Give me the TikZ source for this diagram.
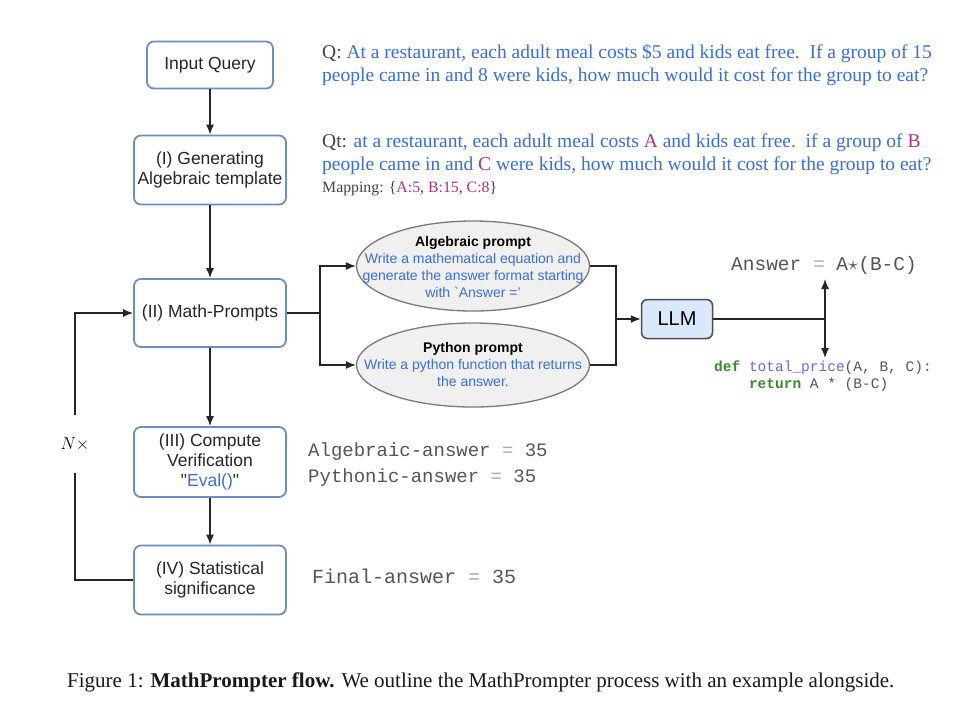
\documentclass[tikz,border=0pt]{standalone}
\usepackage{fontspec}
\setmainfont{Liberation Serif}
\setsansfont{Liberation Sans}
\setmonofont{Liberation Mono}
\usetikzlibrary{arrows.meta,shapes.geometric}
\definecolor{boxblue}{HTML}{6C8EBF}
\definecolor{qblue}{HTML}{3A6FD8}
\definecolor{mag}{HTML}{B0307F}
\definecolor{llmfill}{HTML}{DAE8FC}
\definecolor{ellfill}{HTML}{F0F0F0}
\definecolor{ellline}{HTML}{7A7A7A}
\definecolor{codegreen}{HTML}{3A8A2E}
\definecolor{codeblue}{HTML}{6A6AD8}
\definecolor{txtgrey}{HTML}{444444}
\definecolor{monogrey}{HTML}{555555}
\definecolor{eqgrey}{HTML}{AAAAAA}
\tikzset{
  stepbox/.style={draw=boxblue, line width=1.8pt, rounded corners=7pt, fill=white,
    font=\sffamily\fontsize{17.5}{20}\selectfont, align=center, inner sep=0pt, text=black!85},
  promptell/.style={ellipse, draw=ellline, fill=ellfill, line width=1.3pt, inner sep=0pt,
    minimum width=233pt},
  prompttext/.style={inner sep=0pt, align=center, font=\sffamily\fontsize{14}{17}\selectfont},
  arr/.style={-{Latex[length=10pt,width=8pt]}, line width=1.3pt, draw=black!85},
  ln/.style={line width=1.3pt, draw=black!85},
  qtext/.style={anchor=west, inner sep=0pt, align=left, font=\fontsize{19.5}{23}\selectfont},
  monotext/.style={anchor=west, inner sep=0pt, align=left, text=monogrey, font=\ttfamily\fontsize{19}{26}\selectfont},
}
\begin{document}
\begin{tikzpicture}[x=1pt,y=-1pt]
\useasboundingbox[fill=white] (0,0) rectangle (971,721);

% left column
\node[stepbox, minimum width=126pt, minimum height=47pt] (iq) at (210,65) {Input Query};
\node[stepbox, minimum width=152pt, minimum height=69pt] (gen) at (210,170) {(I) Generating\\Algebraic template};
\node[stepbox, minimum width=152pt, minimum height=68pt] (mp) at (210,313) {(II) Math-Prompts};
\node[stepbox, minimum width=152pt, minimum height=70pt] (cv) at (210,462) {(III) Compute\\Verification\\\textquotedbl{\color{qblue}Eval()}\textquotedbl};
\node[stepbox, minimum width=152pt, minimum height=69pt] (st) at (210,580) {(IV) Statistical\\significance};

\draw[arr] (iq) -- (gen);
\draw[arr] (gen) -- (mp);
\draw[arr] (mp) -- (cv);
\draw[arr] (cv) -- (st);

% loop
\node[inner sep=0pt, minimum height=58pt, font=\fontsize{19}{20}\selectfont] (nx) at (75,444) {$N\times$};
\draw[ln] (st.west) -| (nx.south);
\draw[arr] (nx.north) |- (mp.west);

% prompts
\node[promptell, minimum height=90pt] (alg) at (473,266) {};
\node[prompttext] (algtxt) at (473,267)
  {\textbf{Algebraic prompt}\\{\color{qblue}Write a mathematical equation and}\\{\color{qblue}generate the answer format starting}\\{\color{qblue}with \textasciigrave Answer ='}};
\node[promptell, minimum height=84pt] (py) at (473,365) {};
\node[prompttext] (pytxt) at (473,364)
  {\textbf{Python prompt}\\{\color{qblue}Write a python function that returns}\\{\color{qblue}the answer.}};

\coordinate (sp) at (320,313);
\draw[ln] (mp.east) -- (sp);
\draw[arr] (sp) |- (alg.west);
\draw[arr] (sp) |- (py.west);

\node[draw=black!70, fill=llmfill, line width=1.5pt, rounded corners=6pt,
  minimum width=71pt, minimum height=39pt, inner sep=0pt,
  font=\sffamily\fontsize{20}{22}\selectfont] (llm) at (677,319) {LLM};

\coordinate (jn) at (616,319);
\draw[ln] (alg.east) -| (jn);
\draw[ln] (py.east) -| (jn);
\draw[arr] (jn) -- (llm.west);

\coordinate (br) at (825,319);
\coordinate (up) at (825,279);
\coordinate (dn) at (825,358);
\draw[ln] (llm.east) -- (br);
\draw[arr] (br) -- (up);
\draw[arr] (br) -- (dn);

\node[inner sep=0pt, text=monogrey, font=\ttfamily\fontsize{19.5}{22}\selectfont] (ans) at (824,265)
  {Answer {\color{eqgrey}=} A$\star$(B-C)};
\node[anchor=north west, inner sep=0pt, align=left, text=monogrey, font=\ttfamily\fontsize{14.5}{17}\selectfont] (code) at (714,361)
  {{\bfseries\color{codegreen}def} {\color{codeblue}total\_price}(A, B, C):\\
   \phantom{def }{\bfseries\color{codegreen}return} A * (B-C)};

% texts
\node[qtext] (q) at (322,65)
  {{\color{txtgrey}Q:} {\color{qblue}At a restaurant, each adult meal costs \$5 and kids eat free.\ \ If a group of 15}\\
   {\color{qblue}people came in and 8 were kids, how much would it cost for the group to eat?}};
\node[qtext] (qt) at (322,154)
  {{\color{txtgrey}Qt:} {\color{qblue}at a restaurant, each adult meal costs {\color{mag}A} and kids eat free.\ \ if a group of {\color{mag}B}}\\
   {\color{qblue}people came in and {\color{mag}C} were kids, how much would it cost for the group to eat?}};
\node[anchor=west, inner sep=0pt, text=txtgrey, font=\fontsize{15.8}{18}\selectfont] (map) at (322,189)
  {Mapping: \{{\color{mag}A:5}, {\color{mag}B:15}, {\color{mag}C:8}\}};

\node[monotext] (aa) at (308,465)
  {Algebraic-answer {\color{eqgrey}=} 35\\Pythonic-answer {\color{eqgrey}=} 35};
\node[monotext, font=\ttfamily\fontsize{20}{26}\selectfont] (fa) at (312,576) {Final-answer {\color{eqgrey}=} 35};

\node[anchor=west, inner sep=0pt, text=black!90, font=\fontsize{21}{24}\selectfont] (cap) at (67,682)
  {Figure 1: \textbf{MathPrompter flow.} We outline the MathPrompter process with an example alongside.};
\end{tikzpicture}
\end{document}
